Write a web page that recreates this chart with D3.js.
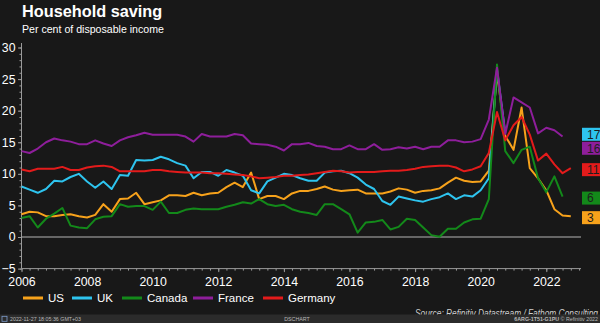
<!DOCTYPE html>
<html>
<head>
<meta charset="utf-8">
<script src="https://cdn.jsdelivr.net/npm/d3@7"></script>
<style>
  html, body { margin: 0; padding: 0; background: #181818; }
  svg { display: block; font-family: "Liberation Sans", Arial, sans-serif; }
</style>
</head>
<body>
<svg id="chart" width="600" height="323"></svg>
<script>
// Quarterly household saving ratios, per cent of disposable income
const quarters = [
  "2005Q4",
  "2006Q1","2006Q2","2006Q3","2006Q4","2007Q1","2007Q2","2007Q3","2007Q4",
  "2008Q1","2008Q2","2008Q3","2008Q4","2009Q1","2009Q2","2009Q3","2009Q4",
  "2010Q1","2010Q2","2010Q3","2010Q4","2011Q1","2011Q2","2011Q3","2011Q4",
  "2012Q1","2012Q2","2012Q3","2012Q4","2013Q1","2013Q2","2013Q3","2013Q4",
  "2014Q1","2014Q2","2014Q3","2014Q4","2015Q1","2015Q2","2015Q3","2015Q4",
  "2016Q1","2016Q2","2016Q3","2016Q4","2017Q1","2017Q2","2017Q3","2017Q4",
  "2018Q1","2018Q2","2018Q3","2018Q4","2019Q1","2019Q2","2019Q3","2019Q4",
  "2020Q1","2020Q2","2020Q3","2020Q4","2021Q1","2021Q2","2021Q3","2021Q4",
  "2022Q1","2022Q2","2022Q3"
];

const us = [3.6,
  4.0,3.9,3.3,3.3, 3.5,3.6,3.3,3.1, 3.5,5.2,4.0,6.0, 6.1,7.0,5.2,5.5,
  5.8,6.6,6.6,6.5, 7.0,6.6,6.9,7.0, 7.9,8.6,7.9,10.2, 6.0,6.5,6.5,6.0,
  6.9,7.3,7.3,7.6, 8.0,7.5,7.3,7.4, 7.5,6.9,6.9,6.9, 7.2,7.7,7.5,7.0,
  7.3,7.4,7.7,8.6, 9.4,8.9,8.7,8.8, 10.5,26.0,16.0,13.8, 20.5,10.9,9.3,7.4,
  4.4,3.4,3.3];

const uk = [8.0,
  7.5,7.0,7.6,8.9, 8.8,9.5,10.0,8.8, 7.8,8.8,7.6,9.8, 9.7,12.2,12.1,12.2,
  12.7,12.3,11.7,11.3, 9.3,10.3,10.3,9.7, 10.6,10.2,9.7,7.4, 6.9,8.8,9.4,10.0,
  9.8,9.3,8.9,8.9, 10.2,10.4,10.5,10.1, 9.4,8.3,7.6,5.7, 5.1,6.4,6.1,5.8,
  5.6,6.0,6.3,6.9, 6.0,6.6,6.4,7.4, 9.3,26.5,16.5,null, null,null,null,null,
  null,null,null];

const canada = [3.0,
  3.3,1.5,2.9,3.7, 4.6,1.8,1.5,1.4, 2.8,3.2,3.3,5.2, 4.8,4.9,4.9,4.3,
  5.6,3.8,3.8,4.3, 4.5,4.4,4.4,4.4, 4.8,5.1,5.5,5.3, 6.0,5.2,4.9,5.1,
  4.4,4.0,3.8,3.5, 5.2,5.2,4.4,3.6, 0.7,2.3,2.4,2.7, 1.2,1.6,2.9,2.7,
  1.5,0.3,0.05,1.3, 1.3,2.3,2.8,2.9, 6.0,27.3,13.6,11.7, 13.8,14.3,9.3,7.1,
  9.6,6.4,null];

const france = [13.6,
  13.3,14.0,15.0,15.6, 15.3,15.1,14.7,14.7, 15.3,14.8,14.4,15.3, 15.8,16.1,16.5,16.2,
  16.2,16.2,16.2,15.9, 15.1,16.3,15.9,15.9, 15.9,16.3,16.1,14.8, 14.7,14.6,14.3,13.7,
  14.7,14.7,14.9,14.4, 14.3,13.9,13.9,14.5, 13.9,13.9,14.7,13.8, 13.9,14.2,14.0,14.3,
  13.9,14.3,14.3,15.3, 15.3,15.0,15.1,15.5, 18.6,26.8,16.3,22.1, 21.3,20.5,16.4,17.3,
  16.9,15.9,null];

const germany = [10.7,
  10.4,10.8,10.8,10.8, 11.1,10.6,10.6,11.0, 11.2,11.3,11.1,10.4, 10.4,10.4,10.4,10.6,
  10.6,10.4,10.3,10.2, 10.2,10.2,10.1,10.1, 10.0,9.9,9.8,9.6, 9.3,9.4,9.5,9.7,
  9.7,9.8,9.9,10.1, 10.3,10.5,10.4,10.2, 10.3,10.3,10.3,10.4, 10.5,10.5,10.6,10.8,
  11.1,11.2,11.3,11.3, 11.0,10.4,10.7,11.2, 13.3,19.8,15.3,17.7, 19.0,16.2,12.1,13.2,
  11.5,10.1,10.9];

const seriesNames  = ["US", "UK", "Canada", "France", "Germany"];
const seriesValues = [us, uk, canada, france, germany];
const seriesColors = ["#f7a21b", "#2ec4ef", "#13891a", "#8e1e9b", "#e31b1b"];

const yTicks = [-5, 0, 5, 10, 15, 20, 25, 30];
const xTickYears = [2006, 2008, 2010, 2012, 2014, 2016, 2018, 2020, 2022];

// Each quarter is placed at the end of its period
const quarterDate = q => new Date(+q.slice(0, 4), +q.slice(5) * 3, 1);
const dates = quarters.map(quarterDate);

const svg = d3.select("#chart");
const W = 600, H = 323;

svg.append("rect").attr("width", W).attr("height", H).attr("fill", "#181818");

const plot = { left: 21.5, right: 581, top: 43, bottom: 268.6 };

const x = d3.scaleTime()
  .domain([new Date(2006, 0, 1), new Date(2022, 0, 1)])
  .range([plot.left, 546.3]);
const y = d3.scaleLinear().domain([-5, 30]).range([plot.bottom, 47.5]);

// Title block
svg.append("text").attr("x", 22).attr("y", 17)
  .attr("fill", "#ffffff").attr("font-size", 16.3).attr("font-weight", "bold")
  .text("Household saving");
svg.append("text").attr("x", 22).attr("y", 33)
  .attr("fill", "#ffffff").attr("font-size", 10.6)
  .text("Per cent of disposable income");

const axisColor = "#9a9a9a";

// Y axis with minor ticks every unit
const yMinor = d3.range(-5, 31, 1);
svg.append("g").attr("transform", `translate(${plot.left},0)`)
  .call(d3.axisLeft(y).tickValues(yMinor).tickSize(2).tickFormat(""))
  .call(g => g.select(".domain").remove())
  .call(g => g.selectAll("line").attr("stroke", axisColor));
svg.append("g").attr("transform", `translate(${plot.left},0)`)
  .call(d3.axisLeft(y).tickValues(yTicks).tickSize(3.5).tickPadding(2.5))
  .call(g => g.select(".domain").remove())
  .call(g => g.selectAll("line").attr("stroke", axisColor))
  .call(g => g.selectAll("text").attr("fill", "#ffffff").attr("font-size", 12.3)
    .attr("font-family", "Liberation Sans, Arial, sans-serif"));
svg.append("line")
  .attr("x1", plot.left).attr("x2", plot.left)
  .attr("y1", plot.top).attr("y2", plot.bottom)
  .attr("stroke", axisColor).attr("stroke-width", 1);

// X axis: quarterly minor ticks, labels every two years
const xMinor = d3.timeMonth.every(3).range(new Date(2006, 0, 1), new Date(2023, 1, 1));
svg.append("g").attr("transform", `translate(0,${plot.bottom})`)
  .call(d3.axisBottom(x).tickValues(xMinor).tickSize(2).tickFormat(""))
  .call(g => g.select(".domain").remove())
  .call(g => g.selectAll("line").attr("stroke", axisColor));
svg.append("g").attr("transform", `translate(0,${plot.bottom})`)
  .call(d3.axisBottom(x).tickValues(xTickYears.map(yr => new Date(yr, 0, 1)))
    .tickSize(3.5).tickPadding(5).tickFormat(d3.timeFormat("%Y")))
  .call(g => g.select(".domain").remove())
  .call(g => g.selectAll("line").attr("stroke", axisColor))
  .call(g => g.selectAll("text").attr("fill", "#ffffff").attr("font-size", 12.3)
    .attr("font-family", "Liberation Sans, Arial, sans-serif"));
svg.append("line")
  .attr("x1", plot.left).attr("x2", plot.right)
  .attr("y1", plot.bottom).attr("y2", plot.bottom)
  .attr("stroke", axisColor).attr("stroke-width", 1);

// Zero line
svg.append("line")
  .attr("x1", plot.left).attr("x2", plot.right)
  .attr("y1", y(0)).attr("y2", y(0))
  .attr("stroke", "#b4b4b4").attr("stroke-width", 1.2);

// Series lines
const line = d3.line()
  .defined(d => d.v !== null)
  .x(d => x(d.date))
  .y(d => y(d.v));

const series = seriesNames.map((name, k) => ({
  name,
  color: seriesColors[k],
  points: seriesValues[k].map((v, i) => ({ date: dates[i], v }))
}));

svg.append("g").selectAll("path").data(series).join("path")
  .attr("d", s => line(s.points))
  .attr("fill", "none")
  .attr("stroke", s => s.color)
  .attr("stroke-width", 2)
  .attr("stroke-linejoin", "round");

// Last-value tags on the right edge, nudged apart where they collide
const tags = series.map(s => {
  const last = s.points.filter(p => p.v !== null).pop();
  return { color: s.color, v: last.v, y: y(last.v) };
}).sort((a, b) => a.y - b.y);
const gap = 14;
for (let i = 1; i < tags.length; i++) {
  if (tags[i].y - tags[i - 1].y < gap) tags[i].y = tags[i - 1].y + gap;
}
const tagG = svg.append("g").selectAll("g").data(tags).join("g")
  .attr("transform", d => `translate(582,${d.y + 1.5})`);
tagG.append("rect").attr("x", 0).attr("y", -6.5).attr("width", 20).attr("height", 13)
  .attr("fill", d => d.color);
tagG.append("text").attr("x", 5).attr("y", 4.3)
  .attr("fill", "#1e1e1e").attr("font-size", 12)
  .text(d => d3.format(".0f")(d.v));

// Legend
const legendX = [23, 72, 122, 193, 263];
const legend = svg.append("g").selectAll("g").data(series).join("g")
  .attr("transform", (d, i) => `translate(${legendX[i]},298)`);
legend.append("line").attr("x1", 0).attr("x2", 20).attr("y1", 0).attr("y2", 0)
  .attr("stroke", d => d.color).attr("stroke-width", 3);
legend.append("text").attr("x", 25).attr("y", 4.3)
  .attr("fill", "#ffffff").attr("font-size", 11.5)
  .text(d => d.name);

// Source line, partly tucked under the footer strip
svg.append("text").attr("x", 415).attr("y", 316.5)
  .attr("fill", "#d0d0d0")
  .attr("font-size", 10).attr("font-style", "italic")
  .attr("textLength", 183).attr("lengthAdjust", "spacingAndGlyphs")
  .text("Source: Refinitiv Datastream / Fathom Consulting");

// Footer strip
svg.append("rect").attr("x", 0).attr("y", 314.5).attr("width", W).attr("height", 8.5)
  .attr("fill", "#2b2b2b");
const footerY = 320.8;
svg.append("text").attr("x", 10).attr("y", footerY).attr("fill", "#b8b8b8")
  .attr("font-size", 5.3).text("2022-11-27 18:05:36 GMT+03");
svg.append("text").attr("x", 297).attr("y", footerY).attr("fill", "#b8b8b8")
  .attr("font-size", 5.3).attr("text-anchor", "middle").text("DSCHART");
svg.append("text").attr("x", 598).attr("y", footerY).attr("fill", "#b8b8b8")
  .attr("font-size", 5.3).attr("text-anchor", "end")
  .html('<tspan font-weight="bold">6ARG-1T51-G1PU</tspan> © Refinitiv 2022');
svg.append("rect").attr("x", 2).attr("y", 316.3).attr("width", 5).attr("height", 5)
  .attr("fill", "none").attr("stroke", "#7f9fd0").attr("stroke-width", 0.8);
</script>
</body>
</html>
